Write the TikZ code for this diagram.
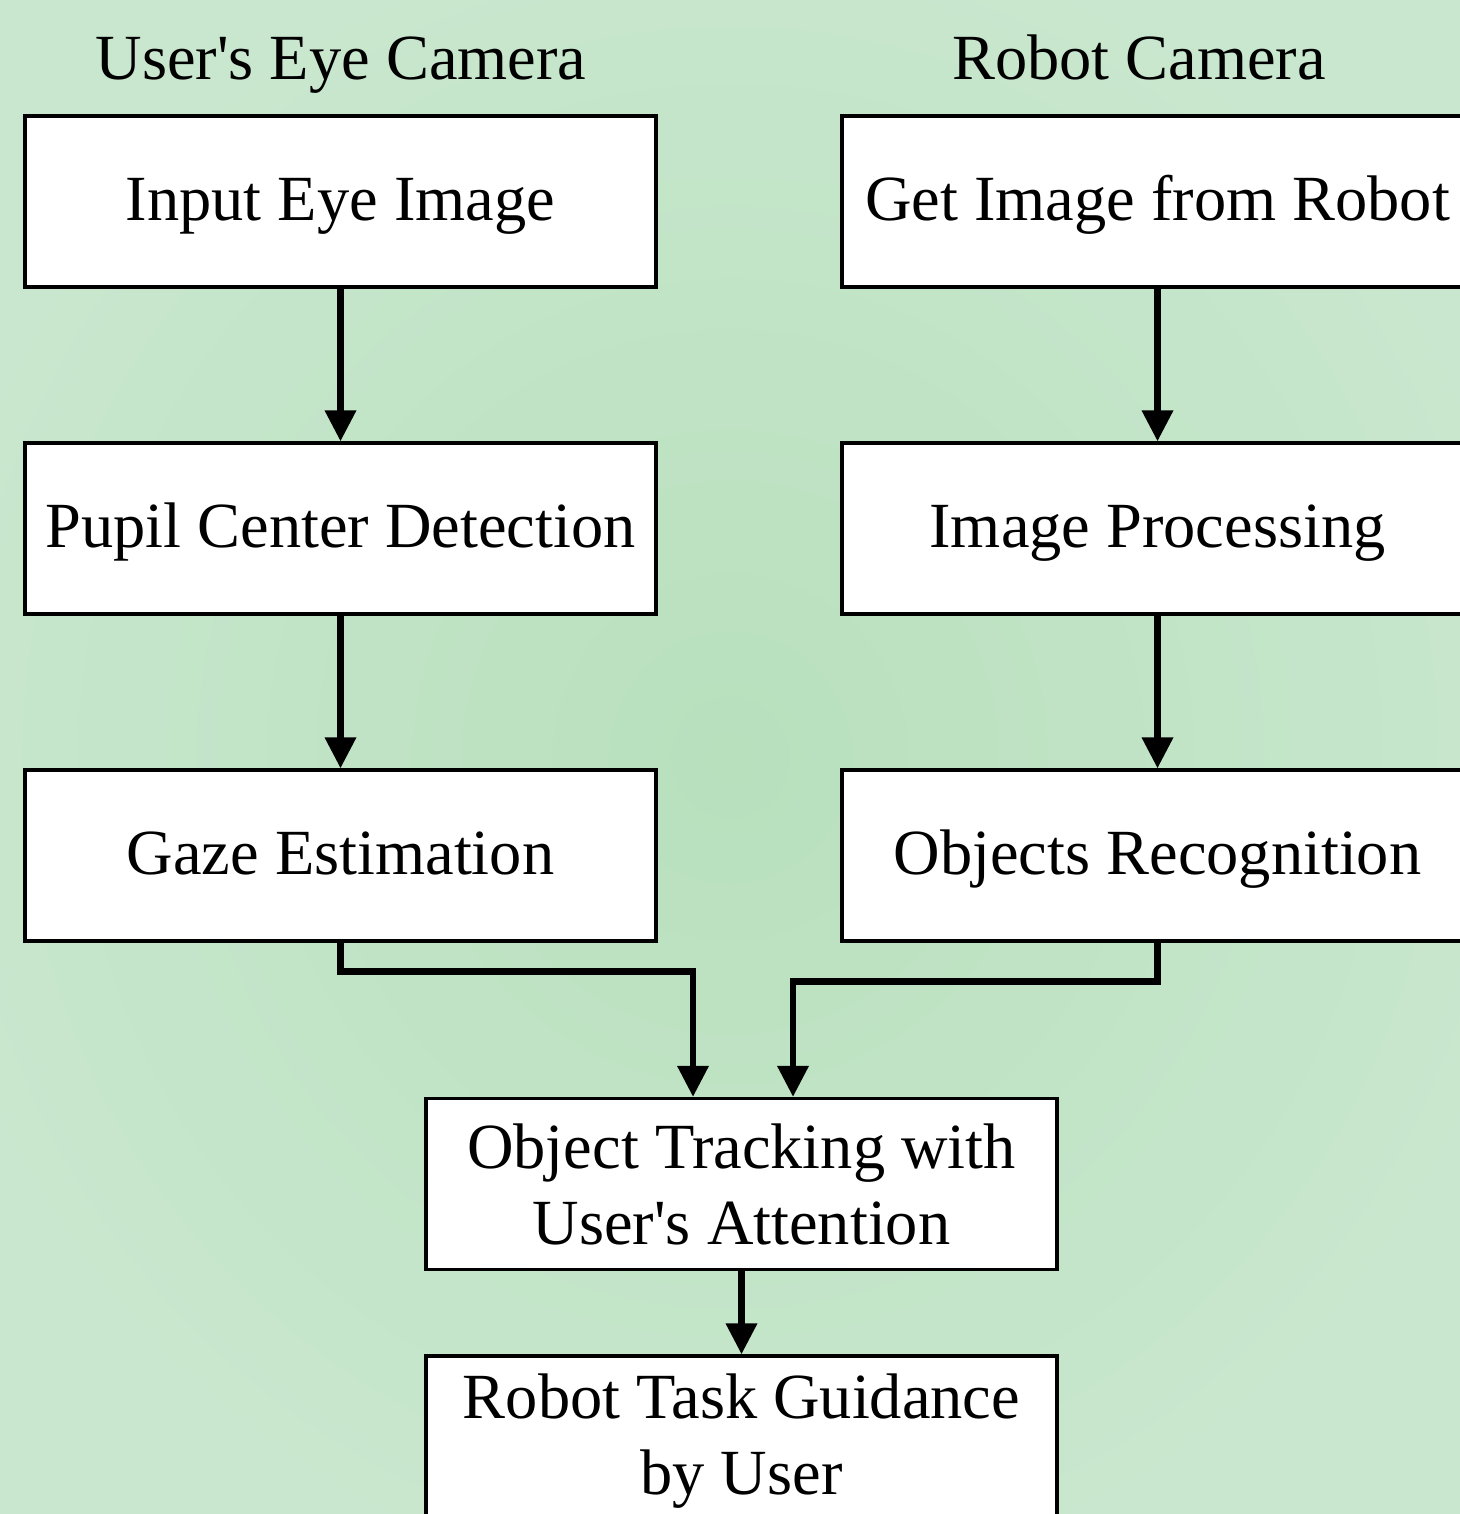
\documentclass[tikz,border=0pt]{standalone}
\usepackage{fontspec}
\setmainfont{Liberation Serif}
\usetikzlibrary{arrows.meta,calc}
\definecolor{bgin}{RGB}{184,224,189}
\definecolor{bgout}{RGB}{201,231,206}
\tikzset{
  stepbox/.style={draw=black,line width=1.6pt,fill=white,minimum width=315.5pt,minimum height=85.5pt,inner sep=0pt,align=center,font=\fontsize{32.2}{38}\selectfont},
  oneline/.style={text height=19pt,text depth=0pt},
  ttl/.style={inner sep=0pt,font=\fontsize{32.2}{38}\selectfont},
  arr/.style={line width=3.3pt,-{Triangle[length=15.5pt,width=15pt]}}
}
\begin{document}
\begin{tikzpicture}[x=0.5pt,y=-0.5pt]
\useasboundingbox (0,0) rectangle (1460,1514);
\clip (0,0) rectangle (1460,1514);
\shade[inner color=bgin,outer color=bgout] (-100,-100) rectangle (1560,1614);
% titles
\node[ttl,anchor=base] (t1) at (341,80) {User\textquotesingle s Eye Camera};
\node[ttl,anchor=base] (t2) at (1139,80) {Robot Camera};
% left column
\node[stepbox,oneline] (a1) at (340.5,201.5) {Input Eye Image};
\node[stepbox,oneline] (a2) at (340.5,528.5) {Pupil Center Detection};
\node[stepbox,oneline] (a3) at (340.5,855.5) {Gaze Estimation};
% right column
\node[stepbox,oneline] (b1) at (1157.5,201.5) {Get Image from Robot};
\node[stepbox,oneline] (b2) at (1157.5,528.5) {Image Processing};
\node[stepbox,oneline] (b3) at (1157.5,855.5) {Objects Recognition};
% bottom
\node[stepbox] (ot) at (741.5,1184) {Object Tracking with\\User\textquotesingle s Attention};
\node[stepbox] (rt) at (741.5,1441.5) {Robot Task Guidance\\by User};
% connectors
\draw[arr] (a1.south) -- (a2.north);
\draw[arr] (a2.south) -- (a3.north);
\draw[arr] (b1.south) -- (b2.north);
\draw[arr] (b2.south) -- (b3.north);
\draw[arr] (a3.south) -- ++(0,29) -| ($(ot.north)+(-48.5,0)$);
\draw[arr] (b3.south) -- ++(0,39) -| ($(ot.north)+(51.5,0)$);
\draw[arr] (ot.south) -- (rt.north);
\end{tikzpicture}
\end{document}
